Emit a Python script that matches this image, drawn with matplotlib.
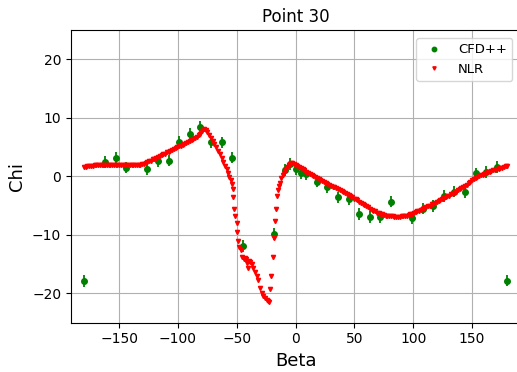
import matplotlib
matplotlib.use("Agg")
import matplotlib.pyplot as plt

# CFD++ data (green points with error bars)
cfd_beta = [-180, -162, -153, -144, -126, -117, -108, -99, -90, -81, -72, -63, -54,
            -45, -18, -9, -4.5, 0, 4.5, 9, 18, 27, 36, 45, 54, 63, 72, 81, 99, 108,
            117, 126, 135, 144, 153, 162, 171, 180]
cfd_chi = [-17.9, 2.5, 3.2, 1.5, 1.2, 2.6, 2.7, 5.9, 7.3, 8.4, 5.9, 5.8, 3.2,
           -11.9, -9.8, 1.1, 2.1, 1.3, 0.6, 0.4, -0.9, -1.8, -3.6, -3.9, -6.4, -6.9, -7.0, -4.3, -7.2, -5.5,
           -5.1, -3.4, -2.6, -2.7, 0.5, 0.8, 1.6, -17.8]
cfd_err = [1.0] * len(cfd_beta)

# NLR data (red triangles)
nlr_beta = [
    -180, -178.5, -177, -175.5, -174, -172.5, -171, -169.5, -168, -166.5, -165, -163.5,
    -162, -160.5, -159, -157.5, -156, -154.5, -153, -151.5, -150, -148.5, -147, -145.5,
    -144, -142.5, -141, -139.5, -138, -136.5, -135, -133.5, -132, -130.5, -129, -127.5,
    -126, -124.5, -123, -121.5, -120, -118.5, -117, -115.5, -114, -112.5, -111, -109.5,
    -108, -106.5, -105, -103.5, -102, -100.5, -99, -97.5, -96, -94.5, -93, -91.5,
    -90, -88.5, -87, -85.5, -84, -82.5, -81, -79.5, -78, -76.5, -75, -73.5,
    -72, -70.5, -69, -67.5, -66, -64.5, -63, -61.5, -60, -58.5,
    -57.3, -56.3, -55.3, -54.4, -53.6, -53.0, -52.2, -51.2, -50.2, -49.5, -48.8, -47.8,
    -46.8, -45.4, -44.2, -43.2, -42.3, -41.5, -40.8, -39.5, -38.5, -37.5, -36.0, -34.6,
    -33.2, -31.8, -30.4, -28.9, -27.6, -26.1, -24.7, -23.7, -22.7,
    -22.0, -21.0, -19.6, -18.5, -17.3, -16.8, -16.2, -15.3, -14.5, -13.4, -12.5, -11.1,
    -10, -9, -8, -7, -6, -5, -4, -3, -1.5,
    0, 1.5, 3, 4.5, 6, 7.5, 9, 10.5, 12, 13.5, 15, 16.5, 18, 19.5, 21, 22.5, 24, 25.5,
    27, 28.5, 30, 31.5, 33, 34.5, 36, 37.5, 39, 40.5, 42, 43.5, 45, 46.5, 48, 49.5,
    51, 52.5, 54, 55.5, 57, 58.5, 60, 61.5, 63, 64.5, 66, 67.5, 69, 70.5, 72, 73.5,
    75, 76.5, 78, 79.5, 81, 82.5, 84, 85.5, 87, 88.5, 90, 91.5, 93, 94.5, 96, 97.5,
    99, 100.5, 102, 103.5, 105, 106.5, 108, 109.5, 111, 112.5, 114, 115.5, 117, 118.5,
    120, 121.5, 123, 124.5, 126, 127.5, 129, 130.5, 132, 133.5, 135, 136.5, 138, 139.5,
    141, 142.5, 144, 145.5, 147, 148.5, 150, 151.5, 153, 154.5, 156, 157.5, 159, 160.5,
    162, 163.5, 165, 166.5, 168, 169.5, 171, 172.5, 174, 175.5, 177, 178.5, 180]
nlr_chi = [
    1.6, 1.6, 1.7, 1.7, 1.8, 1.8, 1.9, 1.9, 1.9, 1.9, 1.9, 1.9,
    1.9, 1.9, 1.9, 1.9, 1.9, 1.9, 1.9, 1.9, 1.9, 1.9, 1.9, 1.9,
    1.9, 1.9, 2.0, 2.0, 2.0, 2.0, 2.0, 2.0, 2.0, 2.1, 2.1, 2.2,
    2.4, 2.6, 2.7, 2.9, 3.0, 3.2, 3.3, 3.5, 3.6, 3.8, 3.9, 4.1,
    4.2, 4.4, 4.5, 4.7, 4.8, 5.0, 5.1, 5.2, 5.4, 5.5, 5.7, 5.8,
    6.0, 6.2, 6.4, 6.6, 6.8, 7.0, 7.3, 7.8, 8.1, 7.9, 7.5, 7.1,
    6.6, 6.1, 5.6, 5.0, 4.4, 3.8, 3.1, 2.4, 1.8, 1.2,
    0.5, -0.1, -0.6, -1.3, -2.2, -3.5, -5.6, -6.8, -7.9, -9.5, -11.1, -12.0,
    -12.6, -13.8, -14.1, -14.0, -14.1, -14.8, -15.7, -14.4, -14.6, -14.9, -15.7, -16.3,
    -17.0, -17.7, -19.1, -19.9, -20.4, -20.8, -21.1, -21.3, -21.4,
    -19.3, -17.1, -13.7, -10.6, -7.7, -5.5, -3.4, -2.4, -1.7, -1.1, -0.3, 0.2,
    0.6, 1.0, 1.3, 1.6, 1.9, 2.1, 2.2, 2.2, 2.1,
    2.0, 1.8, 1.6, 1.4, 1.2, 1.0, 0.8, 0.6, 0.4, 0.3, 0.1, -0.1, -0.3, -0.5, -0.6, -0.8, -1.0, -1.1,
    -1.3, -1.5, -1.6, -1.8, -1.9, -2.0, -2.2, -2.4, -2.5, -2.7, -2.9, -3.0, -3.2, -3.4, -3.6, -3.8,
    -3.9, -4.1, -4.3, -4.5, -4.7, -4.9, -5.1, -5.3, -5.5, -5.7, -5.9, -6.0, -6.2, -6.3, -6.4, -6.5,
    -6.6, -6.7, -6.7, -6.8, -6.8, -6.8, -6.9, -6.9, -6.9, -6.9, -6.8, -6.8, -6.7, -6.7, -6.6, -6.5,
    -6.4, -6.3, -6.1, -6.0, -5.9, -5.7, -5.6, -5.4, -5.3, -5.1, -5.0, -4.8, -4.7, -4.5,
    -4.3, -4.2, -4.0, -3.9, -3.7, -3.6, -3.4, -3.3, -3.1, -3.0, -2.8, -2.6, -2.4, -2.2,
    -2.0, -1.8, -1.6, -1.4, -1.2, -1.0, -0.7, -0.5, -0.3, -0.1, 0.0, 0.2, 0.3, 0.4,
    0.6, 0.7, 0.8, 0.9, 1.0, 1.1, 1.2, 1.3, 1.4, 1.5, 1.6, 1.7, 1.8]

title = "Point 30"
xlabel = "Beta"
ylabel = "Chi"
xticks = [-150, -100, -50, 0, 50, 100, 150]
yticks = [-20, -10, 0, 10, 20]

fig = plt.figure(figsize=(5.17, 3.72), dpi=100)
ax = fig.add_axes([0.1373, 0.1325, 0.8691, 0.7869])

ax.errorbar(cfd_beta, cfd_chi, yerr=cfd_err, fmt='none', ecolor='green', elinewidth=1.3, zorder=2)
ax.plot(cfd_beta, cfd_chi, 'o', color='green', ms=4, label='CFD++', zorder=3)
ax.plot(nlr_beta, nlr_chi, 'v', color='red', ms=3, label='NLR', zorder=4)

ax.set_xlim(-191, 191)
ax.set_ylim(-25, 25)
ax.set_xticks(xticks)
ax.set_yticks(yticks)
ax.tick_params(labelsize=10)
ax.grid(True, color='#b0b0b0', linewidth=0.8)
ax.set_axisbelow(True)
ax.set_title(title, fontsize=12)
ax.set_xlabel(xlabel, fontsize=13)
ax.set_ylabel(ylabel, fontsize=13)
ax.legend(loc='upper right', fontsize=9.5, borderaxespad=0.6, markerscale=0.8)

fig.savefig("out.png", dpi=100)
